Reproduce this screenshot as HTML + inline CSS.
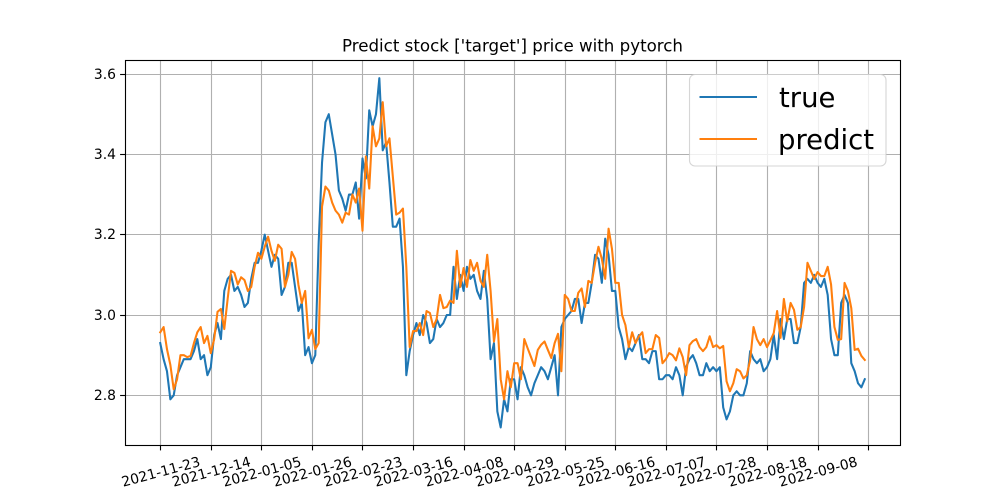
<!DOCTYPE html>
<html>
<head>
<meta charset="utf-8">
<title>Predict stock price with pytorch</title>
<style>
html,body{margin:0;padding:0;background:#fff;width:1000px;height:500px;overflow:hidden}
svg{display:block}
text{font-family:"DejaVu Sans",sans-serif;fill:#000}
</style>
</head>
<body>
<svg id="chart" xmlns="http://www.w3.org/2000/svg" width="1000" height="500" viewBox="0 0 1000 500">
  <rect x="0" y="0" width="1000" height="500" fill="#fff"/>
  <g id="grid"></g>
  <g id="series"></g>
  <rect x="125.5" y="60.5" width="775" height="385" fill="none" stroke="#000" stroke-width="1.11"/>
  <g id="ticks"></g>
  <text x="512.5" y="51.5" font-size="16.67" text-anchor="middle">Predict stock ['target'] price with pytorch</text>
  <g>
    <rect x="689.5" y="74.5" width="196.5" height="91.5" rx="5.5" ry="5.5" fill="#fff" fill-opacity="0.8" stroke="#ccc" stroke-opacity="0.8" stroke-width="1.11"/>
    <line x1="699.5" x2="757" y1="97" y2="97" stroke="#1f77b4" stroke-width="2.08"/>
    <text x="779" y="107" font-size="27.5">true</text>
    <line x1="699.5" x2="757" y1="139" y2="139" stroke="#ff7f0e" stroke-width="2.08"/>
    <text x="778" y="149" font-size="27.5">predict</text>
  </g>
</svg>
<script>
const xTickLabels = ["2021-11-23","2021-12-14","2022-01-05","2022-01-26","2022-02-23","2022-03-16","2022-04-08","2022-04-29","2022-05-25","2022-06-16","2022-07-07","2022-07-28","2022-08-18","2022-09-08",""];
const yTickValues = [2.8,3.0,3.2,3.4,3.6];
const xTickEvery = 15;
const trueValues = [
2.93,2.89,2.86,2.79,2.80,2.85,2.87,2.89,2.89,2.89,
2.91,2.94,2.89,2.90,2.85,2.87,2.95,2.98,2.94,3.06,
3.09,3.10,3.06,3.07,3.05,3.02,3.03,3.09,3.13,3.13,
3.16,3.20,3.16,3.12,3.15,3.14,3.05,3.07,3.13,3.13,
3.07,3.01,3.03,2.90,2.92,2.88,2.90,3.18,3.38,3.48,
3.50,3.45,3.40,3.31,3.29,3.26,3.30,3.30,3.33,3.24,
3.39,3.34,3.51,3.47,3.50,3.59,3.41,3.43,3.33,3.22,
3.22,3.24,3.12,2.85,2.91,2.95,2.98,2.95,3.00,2.98,
2.93,2.94,2.99,2.97,2.98,3.00,3.00,3.12,3.04,3.10,
3.06,3.12,3.09,3.10,3.06,3.04,3.11,3.04,2.89,2.93,
2.76,2.72,2.79,2.76,2.84,2.84,2.79,2.87,2.85,2.82,
2.80,2.83,2.85,2.87,2.86,2.84,2.87,2.90,2.80,2.97,
2.99,3.00,3.01,3.04,3.04,2.98,3.03,3.03,3.08,3.15,
3.14,3.08,3.19,3.15,3.06,3.06,2.97,2.94,2.89,2.92,
2.91,2.93,2.95,2.89,2.89,2.88,2.91,2.91,2.84,2.84,
2.85,2.85,2.84,2.87,2.85,2.80,2.87,2.89,2.90,2.88,
2.85,2.85,2.88,2.86,2.87,2.86,2.87,2.77,2.74,2.76,
2.80,2.81,2.80,2.80,2.83,2.91,2.89,2.88,2.89,2.86,
2.87,2.89,2.95,2.89,2.99,2.94,2.99,2.99,2.93,2.93,
2.97,3.08,3.09,3.08,3.10,3.08,3.07,3.09,3.05,2.94,
2.90,2.90,3.03,3.05,3.03,2.88,2.86,2.83,2.82,2.84];
const predictValues = [
2.957,2.97,2.915,2.876,2.815,2.84,2.90,2.90,2.895,2.898,
2.93,2.957,2.97,2.93,2.948,2.905,2.94,3.008,3.015,2.965,
3.04,3.11,3.105,3.076,3.094,3.087,3.06,3.07,3.12,3.155,
3.14,3.17,3.195,3.16,3.135,3.175,3.165,3.07,3.10,3.157,
3.14,3.075,3.03,3.06,2.942,2.963,2.915,2.93,3.27,3.32,
3.31,3.28,3.26,3.25,3.23,3.255,3.25,3.30,3.28,3.315,
3.21,3.395,3.315,3.47,3.42,3.44,3.53,3.42,3.44,3.345,
3.25,3.255,3.265,3.12,2.92,2.96,2.96,2.98,2.95,3.01,
3.005,2.97,2.99,3.05,3.017,3.02,3.036,3.03,3.16,3.07,
3.117,3.07,3.137,3.11,3.13,3.085,3.07,3.15,3.06,2.934,
2.99,2.84,2.79,2.86,2.82,2.88,2.88,2.84,2.94,2.917,
2.895,2.873,2.913,2.926,2.934,2.913,2.893,2.93,2.953,2.86,
3.05,3.04,3.01,3.01,3.055,3.066,3.02,3.085,3.08,3.13,
3.17,3.14,3.09,3.215,3.165,3.08,3.08,3.00,2.975,2.92,
2.957,2.93,2.947,2.957,2.905,2.915,2.915,2.95,2.943,2.88,
2.89,2.905,2.90,2.887,2.917,2.895,2.85,2.925,2.935,2.94,
2.92,2.91,2.92,2.947,2.92,2.925,2.917,2.923,2.835,2.81,
2.83,2.865,2.86,2.842,2.85,2.888,2.97,2.94,2.925,2.94,
2.92,2.937,2.955,3.01,2.943,3.04,2.984,3.03,3.013,2.963,
2.97,3.02,3.13,3.11,3.09,3.107,3.097,3.097,3.12,3.076,
2.97,2.938,2.94,3.08,3.06,3.017,2.913,2.916,2.898,2.888];

const NS = "http://www.w3.org/2000/svg";
const plotLeft = 125, plotRight = 900, plotTop = 60, plotBottom = 445;

function xScale(i) {
  const last = trueValues.length - 1;
  const span = (plotRight - plotLeft) / 1.1;
  return plotLeft + span * 0.05 + span * i / last;
}
function yScale(v) {
  return 315.0 - (v - 3.0) * 401.5;
}
function snapX(p) {
  return Math.floor(p + 0.5) + 0.5;
}
function snapY(p) {
  return Math.floor(p) + 0.5;
}
function line(parent, x1, y1, x2, y2, stroke, width) {
  const el = document.createElementNS(NS, "line");
  el.setAttribute("x1", x1);
  el.setAttribute("y1", y1);
  el.setAttribute("x2", x2);
  el.setAttribute("y2", y2);
  el.setAttribute("stroke", stroke);
  el.setAttribute("stroke-width", width);
  parent.appendChild(el);
  return el;
}

const gridGroup = document.getElementById("grid");
const tickGroup = document.getElementById("ticks");
const seriesGroup = document.getElementById("series");

xTickLabels.forEach(function (label, k) {
  const x = snapX(xScale(k * xTickEvery));
  const gridLine = line(gridGroup, x, plotTop, x, plotBottom, "#b0b0b0", 1.11);
  
  
  const tickMark = line(tickGroup, x, plotBottom, x, plotBottom + 5.4, "#000", 1.11);
  
  
  if (label) {
    const t = document.createElementNS(NS, "text");
    
    
    t.setAttribute("font-size", "13.89");
    t.setAttribute("text-anchor", "middle");
    t.setAttribute("transform", "translate(" + (xScale(k * xTickEvery) + 0.5) + ",471.5) rotate(-15)");
    t.setAttribute("y", "5");
    t.textContent = label;
    tickGroup.appendChild(t);
  }
});

yTickValues.forEach(function (v) {
  const y = snapY(yScale(v) + 0.2);
  const gridLine = line(gridGroup, plotLeft, y, plotRight, y, "#b0b0b0", 1.11);
  
  
  const tickMark = line(tickGroup, plotLeft - 4.9, y, plotLeft, y, "#000", 1.11);
  
  
  const t = document.createElementNS(NS, "text");
  
  
  t.setAttribute("font-size", "13.89");
  t.setAttribute("text-anchor", "end");
  t.setAttribute("x", plotLeft - 9);
  t.setAttribute("y", y + 4.7);
  t.textContent = v.toFixed(1);
  tickGroup.appendChild(t);
});

function drawSeries(values, color) {
  const p = document.createElementNS(NS, "polyline");
  const pts = values.map(function (v, i) {
    return xScale(i).toFixed(2) + "," + yScale(v).toFixed(2);
  });
  p.setAttribute("points", pts.join(" "));
  p.setAttribute("fill", "none");
  p.setAttribute("stroke", color);
  p.setAttribute("stroke-width", "2.08");
  p.setAttribute("stroke-linejoin", "round");
  p.setAttribute("stroke-linecap", "square");
  seriesGroup.appendChild(p);
  return p;
}
const trueLine = drawSeries(trueValues, "#1f77b4");


const predictLine = drawSeries(predictValues, "#ff7f0e");


</script>
</body>
</html>
